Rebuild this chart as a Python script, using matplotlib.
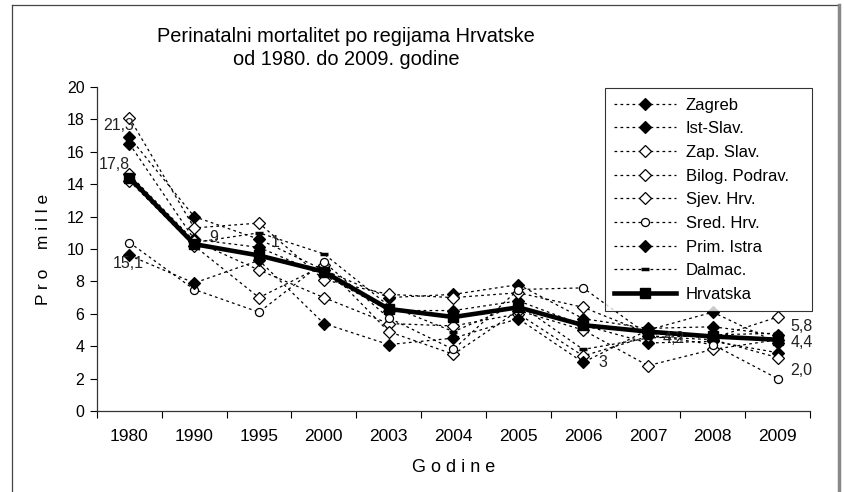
import numpy as np
import matplotlib
matplotlib.use("Agg")
import matplotlib.pyplot as plt
from matplotlib.lines import Line2D

plt.rcParams['font.family'] = ['Liberation Sans', 'DejaVu Sans']

# podaci (promila), procijenjeni s grafa
godine = ['1980', '1990', '1995', '2000', '2003', '2004', '2005', '2006', '2007', '2008', '2009']
zagreb = [16.9, 12.0, 10.6, 8.7, 7.0, 7.2, 7.8, 5.7, 5.1, 5.2, 4.7]
ist_slav = [16.5, 10.6, 10.1, 8.4, 6.2, 6.2, 6.8, 5.3, 4.2, 4.3, 3.6]
zap_slav = [18.1, 11.3, 11.6, 8.1, 7.2, 7.0, 7.3, 6.4, 4.8, 4.5, 5.8]
bilog_podrav = [14.6, 10.5, 8.7, 7.0, 5.4, 5.25, 6.0, 3.4, 4.6, 4.4, 3.3]
sjev_hrv = [14.2, 10.2, 7.0, 9.0, 4.9, 3.5, 6.2, 5.0, 2.8, 3.8, 4.4]
sred_hrv = [10.4, 7.5, 6.1, 9.2, 5.75, 3.8, 7.5, 7.6, 4.7, 4.1, 2.0]
prim_istra = [9.6, 7.9, 9.3, 5.4, 4.1, 4.5, 5.7, 3.0, 5.0, 6.1, 4.2]
dalmac = [14.5, 10.4, 11.0, 9.7, 6.5, 4.9, 6.6, 3.8, 4.5, 4.7, 4.8]
hrvatska = [14.4, 10.3, 9.6, 8.6, 6.3, 5.8, 6.4, 5.3, 4.9, 4.6, 4.4]

# oznake vrijednosti (x indeks, y, tekst)
oznake_x = [-0.16, -0.24, -0.02, 1.3, 2.25, 7.3, 8.4, 10.37, 10.37, 10.37]
oznake_y = [17.6, 15.2, 9.1, 10.7, 10.4, 3.0, 4.5, 5.2, 4.2, 2.5]
oznake_txt = ['21,3', '17,8', '15,1', '9', '1', '3', '4,2', '5,8', '4,4', '2,0']

W, H = 845, 492
fig = plt.figure(figsize=(W / 100, H / 100), dpi=100)
ax = fig.add_axes([97 / W, 1 - 411 / H, 713 / W, 324 / H])

x = np.arange(len(godine))
crtkano = (0, (2.2, 2.6))

regije = [
    ('Zagreb', zagreb, 'D', 'black'),
    ('Ist-Slav.', ist_slav, 'D', 'black'),
    ('Zap. Slav.', zap_slav, 'D', 'white'),
    ('Bilog. Podrav.', bilog_podrav, 'D', 'white'),
    ('Sjev. Hrv.', sjev_hrv, 'D', 'white'),
    ('Sred. Hrv.', sred_hrv, 'o', 'white'),
    ('Prim. Istra', prim_istra, 'D', 'black'),
]
for ime, vr, mk, fc in regije:
    ax.plot(x, vr, linestyle=crtkano, color='black', lw=0.9,
            marker=mk, markersize=5.8, markerfacecolor=fc,
            markeredgecolor='black', markeredgewidth=0.9, label=ime)

ax.plot(x, dalmac, linestyle=crtkano, color='black', lw=0.9,
        marker='_', markersize=6, markeredgewidth=2.5, label='Dalmac.')
ax.plot(x, hrvatska, '-', color='black', lw=3.3, marker='s', markersize=6.5,
        label='Hrvatska')

for tx, ty, t in zip(oznake_x, oznake_y, oznake_txt):
    ax.text(tx, ty, t, fontsize=11.5, ha='center', va='center', color='#222222')

ax.set_xlim(-0.5, len(godine) - 0.5)
ax.set_ylim(0, 20)
ax.set_yticks(np.arange(0, 21, 2))
ax.set_xticks(x)
ax.set_xticklabels(godine, fontsize=12.5)
ax.set_xticks(np.arange(-0.5, len(godine), 1), minor=True)
ax.tick_params(axis='x', which='major', length=0, pad=13)
ax.tick_params(axis='x', which='minor', length=5, direction='out', width=0.8)
ax.tick_params(axis='y', length=5, direction='out', width=0.8, labelsize=11.5, pad=4)
for s in ['top', 'right']:
    ax.spines[s].set_visible(False)
for s in ['left', 'bottom']:
    ax.spines[s].set_color('#333333')
    ax.spines[s].set_linewidth(0.9)

ax.set_ylabel('P r o    m i l l e', fontsize=12.5, labelpad=11)
ax.set_xlabel('G o d i n e', fontsize=13, labelpad=11)

fig.text(346 / W, 1 - 48 / H,
         'Perinatalni mortalitet po regijama Hrvatske\nod 1980. do 2009. godine',
         ha='center', va='center', fontsize=14.4, linespacing=1.25)

leg = ax.legend(loc='upper left', bbox_to_anchor=(0.701, 0.33, 0.313, 0.6916),
                mode='expand', fontsize=12, handlelength=3.7, labelspacing=0.52,
                borderpad=0.55, handletextpad=0.6, fancybox=False, frameon=True)
leg.get_frame().set_edgecolor('black')
leg.get_frame().set_linewidth(0.8)

# okvir oko grafikona
fig.add_artist(Line2D([12 / W, 12 / W], [0, 1 - 5 / H], color='#444444', lw=0.9))
fig.add_artist(Line2D([12 / W, 839 / W], [1 - 5 / H, 1 - 5 / H], color='#444444', lw=0.9))
fig.add_artist(Line2D([839 / W, 839 / W], [0, 1 - 5 / H], color='#888888', lw=2.5))

fig.savefig('out.png', dpi=100)
